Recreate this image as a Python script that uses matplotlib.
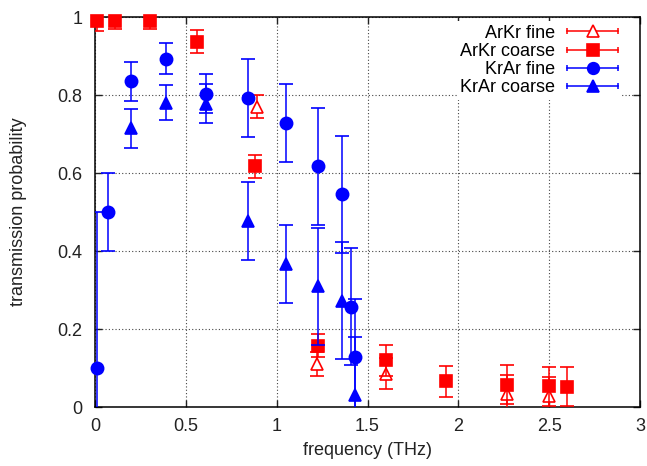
import matplotlib
matplotlib.use("Agg")
import matplotlib.pyplot as plt
from matplotlib.lines import Line2D
from matplotlib.legend_handler import HandlerBase

plt.rcParams['font.family'] = ['Liberation Sans', 'DejaVu Sans']

# ---- data ----
arkr_fine_x = [0.89, 1.22, 1.60, 2.27, 2.50]
arkr_fine_y = [0.77, 0.11, 0.085, 0.033, 0.027]
arkr_fine_e = [0.03, 0.03, 0.04, 0.05, 0.05]

arkr_coarse_x = [0.01, 0.11, 0.30, 0.56, 0.88, 1.23, 1.60, 1.93, 2.27, 2.50, 2.60]
arkr_coarse_y = [0.99, 0.99, 0.99, 0.937, 0.617, 0.157, 0.12, 0.066, 0.057, 0.053, 0.052]
arkr_coarse_e = [0.025, 0.02, 0.02, 0.03, 0.03, 0.03, 0.04, 0.04, 0.05, 0.05, 0.05]

krar_fine_x = [0.01, 0.07, 0.20, 0.39, 0.61, 0.84, 1.05, 1.23, 1.36, 1.41, 1.43]
krar_fine_y = [0.10, 0.50, 0.835, 0.893, 0.803, 0.793, 0.727, 0.617, 0.545, 0.257, 0.128]
krar_fine_e = [0.40, 0.10, 0.05, 0.04, 0.05, 0.10, 0.10, 0.15, 0.15, 0.15, 0.15]

krar_coarse_x = [0.20, 0.39, 0.61, 0.84, 1.05, 1.23, 1.36, 1.43]
krar_coarse_y = [0.715, 0.78, 0.777, 0.478, 0.367, 0.31, 0.272, 0.03]
krar_coarse_e = [0.05, 0.045, 0.05, 0.10, 0.10, 0.15, 0.15, 0.15]

xticks = [0, 0.5, 1, 1.5, 2, 2.5, 3]
xticklabels = ["0", "0.5", "1", "1.5", "2", "2.5", "3"]
yticks = [0, 0.2, 0.4, 0.6, 0.8, 1.0]
yticklabels = ["0", "0.2", "0.4", "0.6", "0.8", "1"]

RED = "#ff0000"
BLUE = "#0000ff"
FS = 13

fig = plt.figure(figsize=(6.47, 4.66), dpi=100)
ax = fig.add_axes([95/647, 1-407/466, (640-95)/647, (407-17)/466])

series = [
    ("ArKr fine", arkr_fine_x, arkr_fine_y, arkr_fine_e, RED, '^', 'white'),
    ("ArKr coarse", arkr_coarse_x, arkr_coarse_y, arkr_coarse_e, RED, 's', RED),
    ("KrAr fine", krar_fine_x, krar_fine_y, krar_fine_e, BLUE, 'o', BLUE),
    ("KrAr coarse", krar_coarse_x, krar_coarse_y, krar_coarse_e, BLUE, '^', BLUE),
]

proxies = []
for i, (lab, x, y, e, c, m, mfc) in enumerate(series):
    ms = 8.8 if m != '^' else 9
    cont = ax.errorbar(x, y, yerr=e, fmt=m, color=c, mfc=mfc, mec=c, ms=ms,
                       mew=1.2, elinewidth=1.1, capsize=5, capthick=1.1,
                       zorder=3 + i)
    cont[0].set_clip_on(False)
    proxies.append(Line2D([], [], color=c, marker=m, mfc=mfc, mec=c, ms=ms, mew=1.2))


class HandlerGnu(HandlerBase):
    def create_artists(self, legend, orig, xdescent, ydescent, width, height,
                       fontsize, trans):
        y = height / 2 - ydescent
        x0, x1 = -xdescent, width - xdescent
        line = Line2D([x0, x1], [y, y], color=orig.get_color(), lw=1.1)
        caps = Line2D([x0, x1], [y, y], color=orig.get_color(), marker='|',
                      ms=5, mew=1.1, linestyle='none')
        mk = Line2D([(x0 + x1) / 2], [y], marker=orig.get_marker(),
                    mfc=orig.get_markerfacecolor(), mec=orig.get_markeredgecolor(),
                    ms=orig.get_markersize() * 0.95, mew=1.2, linestyle='none')
        for a in (line, caps, mk):
            a.set_transform(trans)
        return [line, caps, mk]


leg = ax.legend(proxies, [s[0] for s in series], loc='upper right',
                bbox_to_anchor=((622 - 95) / 545, 1.0 - 4 / 390),
                handler_map={Line2D: HandlerGnu()}, markerfirst=False,
                frameon=True, fontsize=FS, handlelength=2.83, handletextpad=0.66,
                labelspacing=0.07, borderaxespad=0.0, borderpad=0.2)
leg.get_frame().set_edgecolor('none')
leg.get_frame().set_facecolor('white')
leg.get_frame().set_alpha(1)
leg.get_frame().set_boxstyle('square', pad=0)
leg.set_zorder(10)
for t in leg.get_texts():
    t.set_ha('right')

ax.set_xlim(0, 3)
ax.set_ylim(0, 1)
ax.set_xticks(xticks)
ax.set_xticklabels(xticklabels)
ax.set_yticks(yticks)
ax.set_yticklabels(yticklabels)
ax.tick_params(direction='in', length=5, width=1, top=True, right=True,
               labelsize=FS, colors='#222222')
ax.tick_params(axis='y', pad=9)
ax.tick_params(axis='x', pad=8)
ax.grid(True, color='#444444', linestyle=(0, (1, 2)), linewidth=0.8)
ax.set_axisbelow(True)
for sp in ax.spines.values():
    sp.set_linewidth(1.1)
ax.set_xlabel("frequency (THz)", fontsize=FS, color='#222222', labelpad=5)
ax.set_ylabel("transmission probability", fontsize=FS, color='#222222', labelpad=22)

fig.savefig("out.png", dpi=100)
